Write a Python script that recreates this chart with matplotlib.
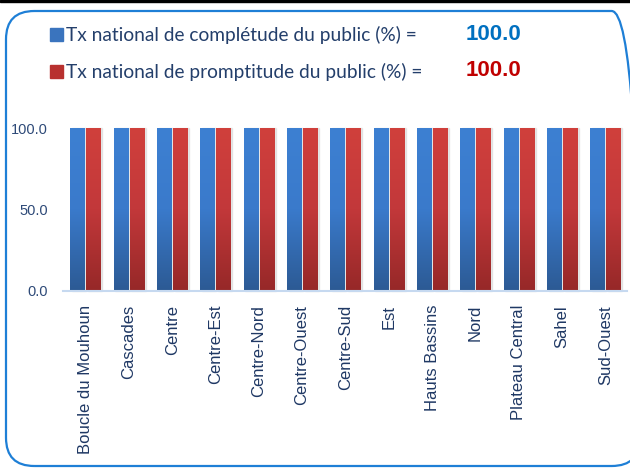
import numpy as np
import matplotlib
matplotlib.use("Agg")
import matplotlib.pyplot as plt
import matplotlib.colors as colors
from matplotlib.patches import FancyBboxPatch, Rectangle

regions = ["Boucle du Mouhoun", "Cascades", "Centre", "Centre-Est", "Centre-Nord",
           "Centre-Ouest", "Centre-Sud", "Est", "Hauts Bassins", "Nord",
           "Plateau Central", "Sahel", "Sud-Ouest"]
completude = [100.0] * 13
promptitude = [100.0] * 13
tx_completude = 100.0
tx_promptitude = 100.0
yticks = [0.0, 50.0, 100.0]

W, H = 630, 468
fig = plt.figure(figsize=(W / 100, H / 100), dpi=100)

# black strip on top and rounded frame
fig.patches.append(Rectangle((0, 1 - 2 / H), 1, 2 / H, transform=fig.transFigure,
                             color="black", zorder=0))
frame = FancyBboxPatch((6 / W, 2 / H), (640 - 6) / W, (457 - 2) / H,
                       boxstyle="round,pad=0,rounding_size=0.045",
                       transform=fig.transFigure, facecolor="none",
                       edgecolor="#1E7FD6", linewidth=1.6, mutation_aspect=W / H,
                       zorder=0)
fig.patches.append(frame)

ax = fig.add_axes([63 / W, (H - 291) / H, (627 - 63) / W, (291 - 128) / H])
ax.set_facecolor("none")
ax.set_zorder(2)

blue_cmap = colors.LinearSegmentedColormap.from_list("b", ["#2C5A94", "#3A7ACB", "#3D80D2"])
red_cmap = colors.LinearSegmentedColormap.from_list("r", ["#962828", "#C2383A", "#D0403C"])
grad = np.linspace(0, 1, 128).reshape(-1, 1)

x = np.arange(len(regions))
bw = 0.33
off = 0.185
for xi, vb, vr in zip(x, completude, promptitude):
    for xc, v, cm in [(xi - off, vb, blue_cmap), (xi + off, vr, red_cmap)]:
        # faint shadow
        ax.add_patch(Rectangle((xc - bw / 2 + 0.04, 0), bw, v, color="#D8D8D8",
                               alpha=0.6, zorder=1, clip_on=False))
        ax.imshow(grad, extent=[xc - bw / 2, xc + bw / 2, 0, v], origin="lower",
                  cmap=cm, aspect="auto", zorder=2, clip_on=False)

ax.set_xlim(-0.52, 12.5)
ax.set_ylim(0, 100)
for s in ["top", "right", "left"]:
    ax.spines[s].set_visible(False)
ax.spines["bottom"].set_color("#C6D9F0")
ax.spines["bottom"].set_linewidth(1.5)
ax.set_yticks(yticks)
ax.set_yticklabels([f"{v:.1f}" for v in yticks], fontsize=10.5, color="#2E4A78",
                   family="Liberation Sans")
ax.tick_params(axis="y", length=0, pad=11)
ax.set_xticks(x)
ax.set_xticklabels(regions, rotation=90, fontsize=12, color="#1F3864",
                   family="Liberation Sans", va="top")
ax.tick_params(axis="x", length=0, pad=10)

# header legend
fig.patches.append(Rectangle((50 / W, (H - 41) / H), 13 / W, 13 / H,
                             transform=fig.transFigure, color="#3A74BE"))
fig.patches.append(Rectangle((50 / W, (H - 78) / H), 13 / W, 13 / H,
                             transform=fig.transFigure, color="#B8312F"))
fig.text(66 / W, 1 - 35 / H, "Tx national de complétude du public (%) =",
         fontsize=13.8, family="Lato", color="#243F6B", va="center")
fig.text(66 / W, 1 - 72 / H, "Tx national de promptitude du public (%) =",
         fontsize=13.8, family="Lato", color="#243F6B", va="center")
fig.text(466 / W, 1 - 35 / H, f"{tx_completude:.1f}", fontsize=16, weight="bold",
         family="Liberation Sans", color="#0070C0", va="center")
fig.text(466 / W, 1 - 71 / H, f"{tx_promptitude:.1f}", fontsize=16, weight="bold",
         family="Liberation Sans", color="#C00000", va="center")

fig.savefig("out.png", dpi=100)
